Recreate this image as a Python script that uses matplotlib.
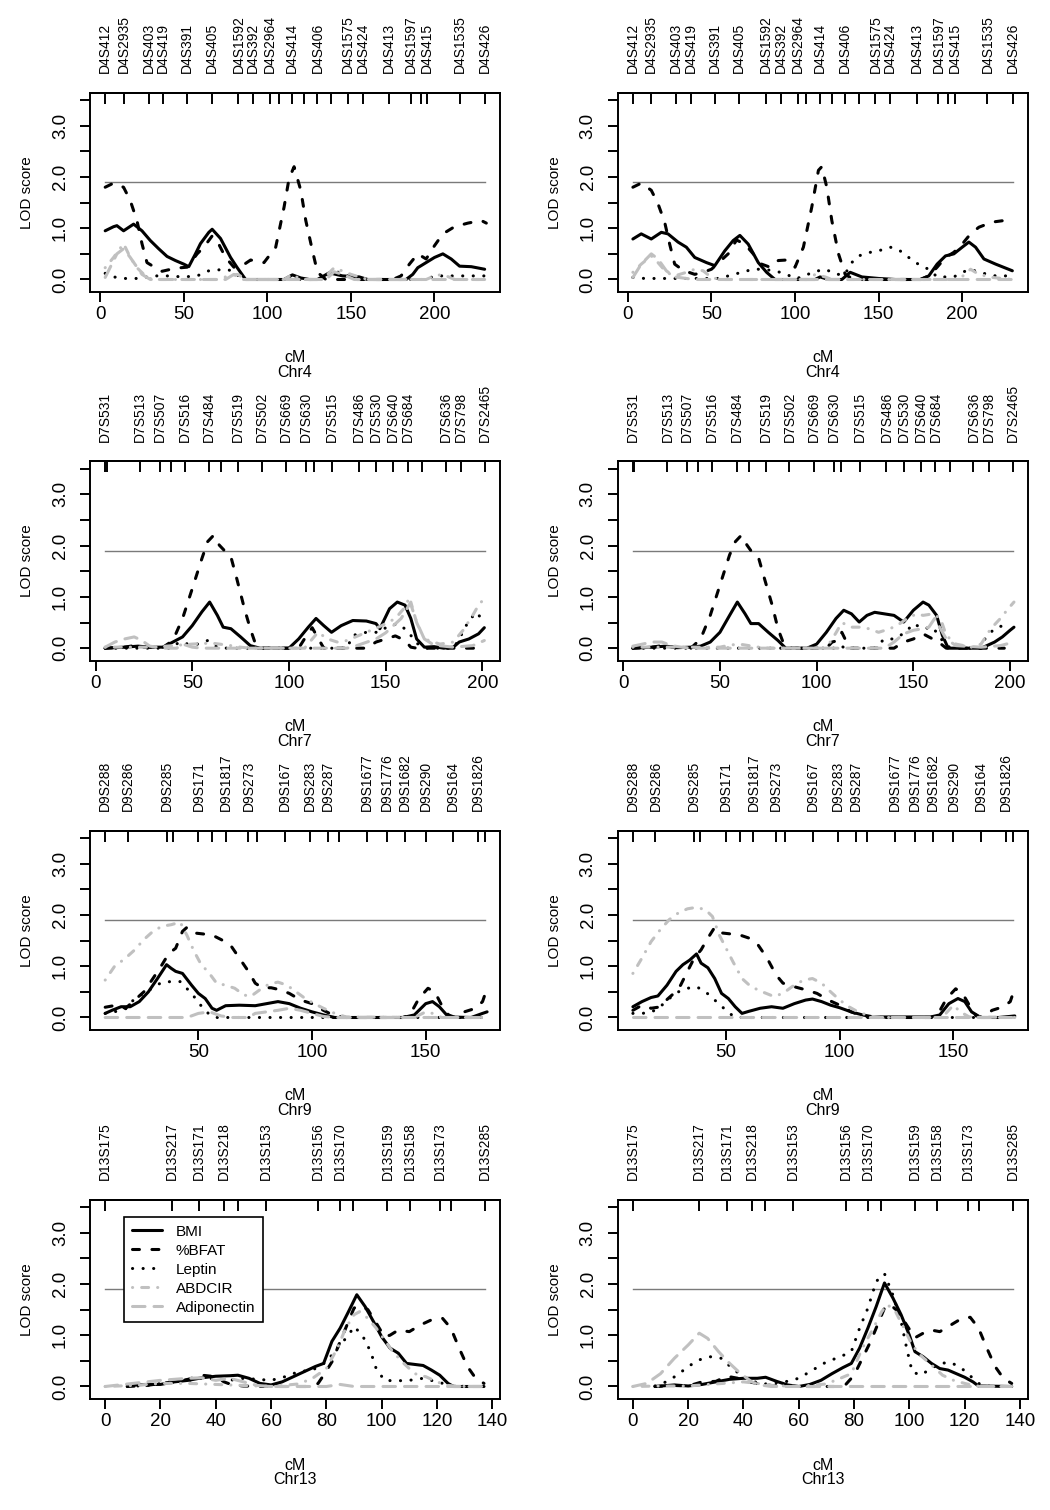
import matplotlib
matplotlib.use('Agg')
import matplotlib.pyplot as plt
import numpy as np

plt.rcParams['font.family'] = ['Liberation Sans', 'DejaVu Sans']
plt.rcParams['lines.scale_dashes'] = False

#' marker maps (cM) and names, '' = tick without label
chr4_pos = [3, 14, 29, 37.6, 52, 66.7, 82.7, 91.5, 101.5, 106.7, 114.9, 122, 130, 138, 148.1, 157, 172.8,
            185.8, 191.8, 195.5, 215.1, 230.1]
chr4_lab = ['D4S412', 'D4S2935', 'D4S403', 'D4S419', 'D4S391', 'D4S405', 'D4S1592', 'D4S392', 'D4S2964', '',
            'D4S414', '', 'D4S406', '', 'D4S1575', 'D4S424', 'D4S413', 'D4S1597', '', 'D4S415', 'D4S1535', 'D4S426']
chr7_pos = [5.0, 5.7, 22.85, 33.15, 38.9, 46.05, 58.8, 64.95, 73.85, 85.95, 98.6, 108.9, 112.8, 122.25, 136.05,
            145.15, 153.9, 161.4, 168.95, 181.05, 189.1, 201.25]
chr7_lab = ['D7S531', '', 'D7S513', 'D7S507', '', 'D7S516', 'D7S484', '', 'D7S519', 'D7S502', 'D7S669', 'D7S630',
            '', 'D7S515', 'D7S486', 'D7S530', 'D7S640', 'D7S684', '', 'D7S636', 'D7S798', 'D7S2465']
chr9_pos = [9.0, 18.9, 36.0, 38.65, 50.0, 56.05, 62.05, 72.0, 76.0, 88.05, 99.2, 106.95, 111.9, 124.15, 133.0,
            140.95, 150.0, 162.0, 173.1, 176.0]
chr9_lab = ['D9S288', 'D9S286', 'D9S285', '', 'D9S171', '', 'D9S1817', 'D9S273', '', 'D9S167', 'D9S283', 'D9S287',
            '', 'D9S1677', 'D9S1776', 'D9S1682', 'D9S290', 'D9S164', 'D9S1826', '']
chr13_pos = [0, 24.0, 34.0, 43.0, 47.9, 58.0, 77.1, 85.0, 89.8, 102.1, 110.1, 121.2, 125.1, 137.3]
chr13_lab = ['D13S175', 'D13S217', 'D13S171', 'D13S218', '', 'D13S153', 'D13S156', 'D13S170', '', 'D13S159',
             'D13S158', 'D13S173', '', 'D13S285']

chr4_xt = [0, 50, 100, 150, 200]
chr7_xt = [0, 50, 100, 150, 200]
chr9_xt = [50, 100, 150]
chr13_xt = [0, 20, 40, 60, 80, 100, 120, 140]

traits = ['BMI', '%BFAT', 'Leptin', 'ABDCIR', 'Adiponectin']
threshold = 1.9

#' LOD curves, (cM, LOD); a = left column, b = right column
c4a_bmi = [(3,.95),(8,1.03),(10,1.05),(14,.95),(20,1.08),(25,.95),(30,.76),(35,.6),(40,.45),(45,.37),(50,.3),
           (53,.25),(57,.5),(60,.7),(65,.92),(67,.98),(72,.8),(78,.43),(82,.23),(87,0),(110,0),(115,.09),(120,.03),
           (125,0),(130,0),(137,.13),(145,.07),(155,.05),(160,0),(183,0),(187,.1),(190,.23),(195,.33),(200,.43),
           (205,.5),(210,.4),(215,.26),(222,.25),(230,.2)]
c4a_bfat = [(3,1.8),(8,1.88),(14,1.8),(18,1.54),(22,1.15),(25,.7),(28,.33),(31,.27),(37,.16),(45,.22),(52,.24),
            (58,.5),(62,.63),(67,.85),(70,.75),(75,.43),(80,.24),(85,.27),(90,.38),(98,.33),(105,.63),(110,1.41),
            (113,1.97),(116,2.2),(120,1.74),(123,1.15),(127,.56),(130,.14),(135,0),(175,0),(180,.07),(185,.3),
            (190,.5),(195,.4),(200,.66),(205,.89),(212,1.03),(220,1.1),(228,1.15),(231,1.1)]
c4a_lep = [(3,.12),(8,.05),(15,.02),(25,.02),(30,.07),(40,.07),(50,.05),(58,.07),(65,.17),(75,.2),(80,.16),
           (85,0),(135,0),(140,.17),(148,.07),(155,0),(195,0),(200,.07),(230,.07)]
c4a_abd = [(3,.23),(8,.43),(14,.7),(18,.43),(22,.23),(28,.04),(32,0),(70,0),(78,.08),(82,.1),(88,0),(110,0),
           (115,.1),(120,0),(133,0),(140,.23),(150,.1),(160,0),(195,0),(200,.07),(205,.1),(212,0),(230,0)]
c4a_adi = [(3,.04),(10,.5),(14,.6),(18,.43),(25,.1),(30,0),(75,0),(80,.1),(85,0),(135,0),(140,.15),(145,.1),
           (152,0),(230,0)]

c4b_bmi = [(3,.79),(8,.89),(14,.79),(20,.92),(24,.89),(30,.73),(35,.63),(40,.43),(47,.33),(52,.27),(58,.56),
           (63,.76),(67,.86),(72,.69),(78,.33),(83,.14),(88,0),(112,0),(115,.05),(120,0),(128,0),(133,.14),(140,.05),
           (150,.02),(160,0),(175,0),(180,.07),(185,.3),(190,.46),(195,.5),(200,.63),(204,.73),(208,.63),(213,.4),
           (220,.3),(230,.17)]
c4b_bfat = [(3,1.8),(8,1.88),(14,1.74),(18,1.48),(22,1.12),(25,.69),(28,.3),(33,.18),(40,.1),(45,.14),(50,.2),
            (55,.35),(60,.5),(65,.77),(70,.69),(75,.5),(80,.3),(85,.24),(90,.37),(95,.38),(100,.24),(105,.63),
            (110,1.41),(114,2.13),(116,2.2),(119,1.8),(122,1.15),(126,.5),(130,.1),(135,0),(175,0),(180,.07),
            (185,.24),(190,.43),(195,.53),(200,.69),(205,.89),(210,1.02),(218,1.12),(225,1.15),(231,1.12)]
c4b_lep = [(3,.04),(10,.02),(55,.02),(60,.07),(68,.14),(75,.2),(80,.2),(88,.17),(95,.1),(100,.02),(105,.05),
           (110,.14),(118,.2),(125,.1),(130,.1),(133,.3),(138,.46),(145,.53),(150,.56),(157,.63),(162,.58),
           (168,.43),(175,.27),(180,.2),(185,.05),(195,.05),(200,.14),(205,.2),(210,.14),(220,.07),(230,.07)]
c4b_abd = [(3,.14),(8,.3),(14,.46),(18,.33),(23,.14),(28,.07),(35,.14),(40,.2),(45,.17),(50,.04),(55,0),(108,0),
           (112,.1),(118,.05),(122,0),(198,0),(205,.2),(210,.1),(218,.04),(230,0)]
c4b_adi = [(3,.04),(8,.3),(14,.5),(18,.4),(23,.17),(28,.05),(35,.02),(40,0),(230,0)]

c7a_bmi = [(5,0),(15,.02),(22,.04),(28,.02),(35,.02),(40,.12),(45,.22),(50,.44),(55,.71),(59,.9),(63,.64),
           (66,.41),(70,.38),(75,.22),(80,.05),(85,0),(100,0),(105,.18),(110,.41),(114,.58),(118,.44),(122,.31),
           (127,.44),(133,.54),(140,.53),(145,.48),(147,.38),(152,.77),(156,.9),(160,.84),(163,.58),(166,.18),
           (170,.02),(175,.03),(180,0),(185,.02),(188,.12),(193,.18),(198,.28),(201,.4)]
c7a_bfat = [(5,0),(15,.02),(20,.05),(25,.02),(35,.02),(40,.15),(45,.58),(50,1.16),(55,1.75),(58,2.08),(61,2.2),
            (64,2.01),(68,1.85),(70,1.78),(73,1.36),(77,.77),(80,.38),(83,.05),(86,0),(105,0),(108,.18),(112,.4),
            (118,0),(140,0),(145,.12),(150,.18),(155,.24),(160,.15),(163,.02),(166,0),(197,0)]
c7a_lep = [(5,0),(40,0),(43,.12),(48,.08),(53,.08),(58,.15),(63,.02),(68,0),(130,0),(133,.25),(140,.31),
           (147,.31),(150,.4),(156,.48),(161,.35),(166,.1),(170,0),(185,0),(188,.18),(193,.54),(197,.7),(201,.5)]
c7a_abd = [(5,.02),(30,.02),(40,.05),(50,.08),(60,.1),(70,.05),(75,.02),(80,0),(108,0),(115,.31),(120,.18),
           (125,.12),(130,.15),(140,.31),(148,.44),(155,.58),(160,.8),(162,.97),(166,.51),(170,.18),(178,.08),
           (185,.12),(190,.35),(195,.64),(198,.84),(201,.97)]
c7a_adi = [(5,.02),(10,.12),(15,.18),(20,.22),(24,.15),(28,.04),(35,0),(42,0),(45,.08),(50,.02),(55,0),(130,0),
           (135,.05),(145,.18),(150,.3),(158,.58),(163,.9),(166,.5),(170,.18),(175,.06),(185,.02),(195,.05),
           (201,.15)]

c7b_bmi = [(5,0),(15,.02),(22,.04),(28,.01),(35,.02),(40,.04),(45,.12),(50,.31),(55,.64),(59,.9),(63,.67),
           (66,.48),(70,.48),(75,.31),(80,.15),(84,0),(95,0),(100,.08),(105,.31),(110,.58),(114,.74),(118,.67),
           (122,.51),(126,.64),(130,.7),(135,.67),(140,.64),(145,.51),(150,.74),(155,.9),(158,.84),(162,.64),
           (165,.25),(168,0),(185,0),(188,.05),(192,.12),(196,.22),(200,.35),(202,.41)]
c7b_bfat = [(5,0),(15,.02),(20,.05),(25,.02),(35,0),(40,.18),(45,.64),(50,1.23),(55,1.82),(58,2.08),(61,2.2),
            (64,2.01),(67,1.85),(70,1.76),(73,1.36),(77,.84),(80,.38),(83,.08),(86,0),(105,0),(108,.12),(111,.15),
            (113,.31),(117,0),(140,0),(145,.12),(150,.18),(155,.28),(160,.18),(163,.12),(167,0),(197,0)]
c7b_lep = [(5,0),(110,0),(112,.05),(115,0),(130,0),(135,.18),(140,.18),(146,.31),(150,.48),(155,.38),(160,.41),
           (163,.25),(167,.05),(170,0),(185,0),(187,.18),(190,.31),(193,.41),(197,.44),(200,.38)]
c7b_abd = [(5,.02),(50,.02),(55,.06),(60,.08),(65,.05),(70,.02),(75,0),(105,0),(110,.3),(113,.5),(118,.41),
           (122,.41),(127,.38),(132,.31),(138,.38),(143,.48),(148,.61),(152,.67),(155,.64),(160,.67),(164,.58),
           (167,.25),(172,.08),(180,.02),(185,.08),(190,.38),(195,.58),(199,.77),(202,.9)]
c7b_adi = [(5,.04),(10,.08),(15,.12),(20,.12),(25,.05),(30,.02),(35,0),(135,0),(140,.12),(145,.28),(150,.35),
           (155,.38),(158,.41),(161,.58),(164,.38),(167,.18),(172,.05),(185,.02),(195,.05),(202,.12)]

c9a_bmi = [(9,.08),(12,.14),(16,.21),(20,.21),(24,.31),(28,.5),(32,.76),(36,1.03),(38,.96),(40,.9),(43,.86),
           (47,.63),(50,.47),(53,.37),(56,.18),(58,.14),(62,.23),(68,.24),(75,.23),(80,.27),(85,.31),(90,.27),
           (95,.18),(100,.11),(105,.05),(110,0),(140,0),(145,.05),(150,.27),(153,.31),(156,.21),(160,.01),(170,0),
           (175,.08),(177,.11)]
c9a_bfat = [(9,.2),(14,.24),(18,.18),(22,.34),(26,.5),(30,.76),(34,1.03),(37,1.25),(40,1.35),(43,1.68),(45,1.76),
            (48,1.65),(52,1.63),(56,1.61),(60,1.52),(64,1.42),(68,1.16),(72,.9),(75,.67),(78,.58),(82,.58),(86,.54),
            (90,.47),(95,.34),(100,.27),(105,.14),(110,.03),(115,0),(140,0),(143,.05),(147,.37),(151,.57),(154,.5),
            (157,.24),(160,.05),(163,0),(167,.11),(172,.18),(175,.31),(177,.57)]
c9a_lep = [(9,.08),(13,.11),(18,.17),(22,.37),(26,.47),(30,.58),(34,.69),(38,.7),(42,.7),(47,.47),(51,.24),
           (55,.05),(58,0),(177,0)]
c9a_abd = [(9,.73),(13,.99),(18,1.16),(22,1.32),(26,1.52),(30,1.68),(34,1.78),(38,1.81),(42,1.86),(45,1.6),
           (48,1.3),(51,1.05),(55,.85),(58,.67),(62,.63),(66,.57),(70,.44),(73,.41),(77,.54),(81,.65),(85,.69),
           (89,.63),(93,.5),(97,.37),(101,.27),(105,.18),(110,.08),(115,.01),(145,0),(150,.11),(153,.08),(157,0),
           (177,0)]
c9a_adi = [(9,0),(45,0),(50,.08),(55,.11),(60,.03),(65,0),(72,0),(75,.08),(80,.11),(85,.14),(90,.18),(95,.14),
           (100,.08),(105,.02),(110,0),(177,0)]

c9b_bmi = [(9,.21),(13,.31),(17,.39),(20,.42),(24,.63),(28,.9),(31,1.03),(34,1.12),(37,1.24),(39,1.06),(42,.97),
           (45,.76),(48,.47),(51,.37),(54,.21),(57,.08),(60,.12),(65,.18),(70,.21),(75,.18),(80,.27),(85,.34),
           (88,.36),(92,.31),(96,.24),(100,.19),(105,.11),(110,.05),(115,.01),(140,.01),(144,.05),(148,.27),
           (152,.37),(155,.31),(158,.11),(162,0),(170,0),(177,.03)]
c9b_bfat = [(9,.14),(13,.24),(17,.18),(20,.2),(23,.31),(27,.47),(30,.63),(33,.9),(36,1.16),(39,1.32),(42,1.55),
            (45,1.76),(48,1.65),(52,1.63),(56,1.61),(60,1.55),(64,1.42),(68,1.16),(72,.83),(75,.67),(80,.6),
            (85,.54),(90,.47),(95,.34),(100,.24),(105,.11),(110,.03),(115,0),(140,0),(143,.05),(147,.37),(151,.56),
            (154,.47),(157,.24),(160,.03),(163,0),(167,.14),(172,.21),(175,.31),(177,.57)]
c9b_lep = [(9,.08),(13,.08),(17,.1),(21,.21),(25,.37),(29,.5),(33,.57),(37,.6),(41,.5),(45,.34),(49,.18),
           (53,.03),(57,0),(177,0)]
c9b_abd = [(9,.86),(13,1.16),(17,1.48),(21,1.71),(25,1.91),(29,2.04),(33,2.12),(37,2.15),(41,2.1),(44,1.97),
           (47,1.61),(50,1.35),(53,1.09),(57,.76),(61,.6),(66,.5),(71,.41),(75,.47),(79,.6),(84,.73),(88,.76),
           (92,.67),(96,.5),(100,.34),(104,.21),(108,.11),(113,.03),(118,0),(145,0),(150,.24),(153,.11),(157,.01),
           (177,0)]
c9b_adi = [(9,0),(177,0)]

c13a_bmi = [(8,.03),(15,.04),(20,.04),(25,.09),(30,.12),(35,.17),(40,.2),(45,.21),(48,.22),(52,.16),(56,.06),
            (60,.03),(64,.09),(68,.19),(72,.29),(76,.39),(79,.45),(82,.88),(85,1.14),(88,1.46),(91,1.79),(94,1.56),
            (97,1.27),(100,.97),(103,.75),(106,.65),(109,.45),(112,.43),(115,.41),(118,.32),(121,.22),(124,.06),
            (126,0),(137,0)]
c13a_bfat = [(8,0),(15,.02),(20,.06),(25,.09),(30,.14),(35,.22),(40,.19),(43,.09),(46,.03),(50,.01),(60,0),(75,0),
             (77,.06),(79,.22),(82,.48),(85,.88),(88,1.27),(90,1.53),(92,1.58),(95,1.5),(98,1.24),(101,.97),
             (103,1.0),(106,1.1),(110,1.07),(114,1.2),(118,1.3),(122,1.33),(125,1.14),(128,.75),(131,.39),
             (134,.16),(137,.06)]
c13a_lep = [(8,0),(15,.02),(22,.07),(30,.12),(35,.16),(40,.15),(45,.12),(50,.16),(55,.14),(60,.12),(65,.19),
            (70,.29),(75,.32),(80,.48),(84,.75),(88,1.0),(90,1.17),(93,1.0),(96,.68),(98,.35),(101,.12),(105,.11),
            (110,.12),(115,.16),(120,.09),(125,.02),(130,0)]
c13a_abd = [(0,0),(10,.02),(20,.06),(30,.06),(40,.04),(50,.02),(60,0),(70,.05),(75,.16),(80,.35),(84,.75),
            (87,1.14),(90,1.4),(92,1.46),(95,1.33),(98,1.14),(101,.91),(104,.68),(108,.45),(112,.25),(116,.19),
            (120,.09),(124,.02),(130,0),(137,0)]
c13a_adi = [(0,0),(10,.06),(15,.09),(20,.12),(25,.14),(30,.16),(35,.17),(40,.12),(45,.16),(50,.09),(55,.02),
            (60,0),(80,0),(85,.04),(90,0),(137,0)]

c13b_bmi = [(8,0),(15,.03),(20,.01),(25,.04),(30,.09),(35,.14),(40,.16),(45,.16),(48,.18),(52,.1),(56,.03),(60,0),
            (64,.04),(68,.12),(72,.25),(76,.37),(79,.45),(82,.75),(85,1.14),(88,1.56),(91,2.02),(94,1.73),(97,1.4),
            (100,1.0),(102,.68),(105,.58),(108,.45),(111,.35),(114,.32),(117,.25),(120,.18),(123,.09),(125,.01),
            (137,0)]
c13b_bfat = [(8,0),(15,.02),(20,.01),(25,.09),(30,.1),(34,.2),(38,.16),(42,.09),(45,.06),(50,.02),(60,0),(75,0),
             (77,.04),(80,.22),(83,.55),(86,.88),(89,1.27),(91,1.53),(93,1.6),(96,1.46),(99,1.2),(102,.95),
             (105,1.04),(108,1.1),(111,1.07),(115,1.2),(119,1.33),(122,1.35),(125,1.14),(128,.75),(131,.39),
             (134,.16),(137,.06)]
c13b_lep = [(8,.01),(12,.09),(16,.22),(20,.39),(24,.52),(28,.58),(32,.55),(36,.35),(40,.19),(44,.09),(48,.05),
            (55,.09),(60,.16),(65,.32),(70,.48),(75,.58),(79,.68),(82,1.14),(85,1.53),(88,2.05),(91,2.2),(94,1.79),
            (97,1.27),(99,.75),(101,.29),(104,.22),(107,.32),(111,.45),(115,.47),(119,.35),(123,.16),(126,.02),
            (130,0)]
c13b_abd = [(0,0),(10,.01),(20,.01),(30,.05),(40,.09),(45,.06),(50,.02),(60,0),(70,.05),(75,.16),(79,.25),
            (83,.75),(87,1.14),(90,1.46),(92,1.6),(95,1.46),(98,1.14),(101,.81),(104,.61),(108,.42),(112,.22),
            (116,.12),(120,.06),(124,.01),(130,0),(137,0)]
c13b_adi = [(0,0),(5,.06),(10,.25),(15,.55),(20,.81),(24,1.04),(27,.94),(31,.68),(35,.45),(39,.25),(43,.09),
            (46,.03),(50,0),(137,0)]

#' line styles in trait order
colors = ['black', 'black', 'black', '#c0c0c0', '#c0c0c0']
dashes = [None, (5, 9), (0.1, 7.5), (0.1, 6.5, 5, 6.5), (9, 6.5)]

panels = [
    ('Chr4', chr4_pos, chr4_lab, chr4_xt, [c4a_bmi, c4a_bfat, c4a_lep, c4a_abd, c4a_adi],
     [c4b_bmi, c4b_bfat, c4b_lep, c4b_abd, c4b_adi]),
    ('Chr7', chr7_pos, chr7_lab, chr7_xt, [c7a_bmi, c7a_bfat, c7a_lep, c7a_abd, c7a_adi],
     [c7b_bmi, c7b_bfat, c7b_lep, c7b_abd, c7b_adi]),
    ('Chr9', chr9_pos, chr9_lab, chr9_xt, [c9a_bmi, c9a_bfat, c9a_lep, c9a_abd, c9a_adi],
     [c9b_bmi, c9b_bfat, c9b_lep, c9b_abd, c9b_adi]),
    ('Chr13', chr13_pos, chr13_lab, chr13_xt, [c13a_bmi, c13a_bfat, c13a_lep, c13a_abd, c13a_adi],
     [c13b_bmi, c13b_bfat, c13b_lep, c13b_abd, c13b_adi]),
]

W, H = 1050, 1510
fig = plt.figure(figsize=(W / 100, H / 100), dpi=100)

col_left = [90, 617.7]
row_bottom = [292, 660.7, 1030, 1399]
aw, ah = 410, 199.3


def draw(ax, name, pos, lab, xt, curves, show_legend):
    span = pos[-1] - pos[0]
    ax.set_xlim(pos[0] - 0.04 * span, pos[-1] + 0.04 * span)
    ax.set_ylim(-0.244, 3.644)

    ax.plot([pos[0], pos[-1]], [threshold, threshold], color='#7a7a7a', lw=1.0)

    for k, c in enumerate(curves):
        xy = np.array(c)
        ln, = ax.plot(xy[:, 0], xy[:, 1], color=colors[k], lw=2.2, label=traits[k],
                      solid_capstyle='round', dash_capstyle='round', solid_joinstyle='round')
        if dashes[k] is not None:
            ln.set_dashes(dashes[k])

    for sp in ax.spines.values():
        sp.set_linewidth(1.4)

    ax.set_xticks(xt)
    ax.tick_params(axis='x', length=7.2, width=1.4, pad=3, labelsize=13.5)
    yt = [0, 0.5, 1, 1.5, 2, 2.5, 3, 3.5]
    ax.set_yticks(yt)
    ax.set_yticklabels(['0.0', '', '1.0', '', '2.0', '', '3.0', ''])
    ax.tick_params(axis='y', length=7.2, width=1.4, pad=8, labelsize=13.5, labelrotation=90)
    for t in ax.get_yticklabels():
        t.set_va('center')

    #' marker ticks inside the top of the box
    top = ax.secondary_xaxis('top')
    top.set_xticks(pos)
    top.set_xticklabels(lab)
    top.tick_params(direction='in', length=7.6, width=1.4, pad=14, labelsize=10, labelrotation=90)
    top.spines['top'].set_linewidth(1.4)

    ax.text(-63 / aw, 0.5, 'LOD score', transform=ax.transAxes, rotation=90, ha='center', va='center',
            fontsize=11)
    ax.text(0.5, -66 / ah, 'cM', transform=ax.transAxes, ha='center', va='center', fontsize=11.5)
    ax.text(0.5, -80.5 / ah, name, transform=ax.transAxes, ha='center', va='center', fontsize=11.5)

    if show_legend:
        leg = ax.legend(loc='upper left', bbox_to_anchor=(34 / aw, 1 - 17.3 / ah), borderaxespad=0,
                        fontsize=11, handlelength=2.0, handletextpad=0.9, labelspacing=0.33,
                        borderpad=0.5, fancybox=False, framealpha=1, edgecolor='black')
        leg.get_frame().set_linewidth(1.2)


for r, (name, pos, lab, xt, left_curves, right_curves) in enumerate(panels):
    for j, curves in enumerate([left_curves, right_curves]):
        rect = [col_left[j] / W, 1 - row_bottom[r] / H, aw / W, ah / H]
        ax = fig.add_axes(rect)
        draw(ax, name, pos, lab, xt, curves, show_legend=(r == 3 and j == 0))

fig.savefig('out.png', dpi=100)
